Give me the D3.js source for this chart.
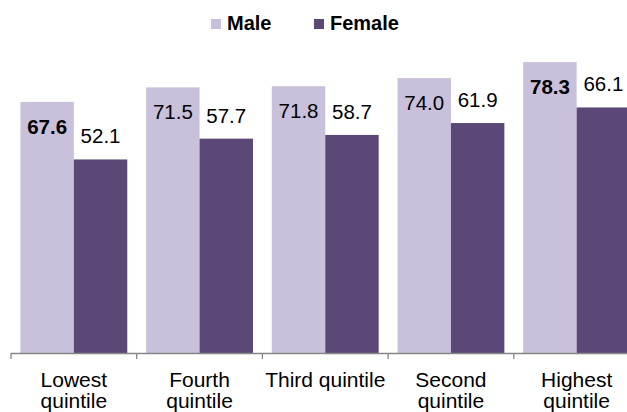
<!DOCTYPE html>
<html>
<head>
<meta charset="utf-8">
<script src="https://cdn.jsdelivr.net/npm/d3@7"></script>
<style>
  body { margin: 0; background: #fff; }
  text { font-family: "Liberation Sans", Arial, sans-serif; fill: #000; }
</style>
</head>
<body>
<div id="chart"></div>
<script>
// data
const categories = ["Lowest quintile", "Fourth quintile", "Third quintile", "Second quintile", "Highest quintile"];
const categoryLines = [["Lowest", "quintile"], ["Fourth", "quintile"], ["Third quintile"], ["Second", "quintile"], ["Highest", "quintile"]];
const series = ["Male", "Female"];
const maleValues = [67.6, 71.5, 71.8, 74.0, 78.3];
const femaleValues = [52.1, 57.7, 58.7, 61.9, 66.1];
const boldMale = [true, false, false, false, true];

const colors = { Male: "#c9c0db", Female: "#5c4877" };

const width = 627, height = 412;
const baseY = 353;

const svg = d3.select("#chart").append("svg")
  .attr("width", width)
  .attr("height", height);

const x0 = d3.scaleBand()
  .domain(categories)
  .range([11, 639.5])
  .paddingInner(0.15)
  .paddingOuter(0.075);

const x1 = d3.scaleBand()
  .domain(series)
  .range([0, x0.bandwidth()]);

const y = d3.scaleLinear()
  .domain([0, 90])
  .range([baseY, baseY - 90 * 3.715]);

const rows = categories.map((c, i) => ({
  cat: c,
  lines: categoryLines[i],
  vals: [
    { key: "Male", v: maleValues[i], bold: boldMale[i] },
    { key: "Female", v: femaleValues[i], bold: false }
  ]
}));

const groups = svg.append("g").selectAll("g.group")
  .data(rows)
  .join("g")
  .attr("class", "group")
  .attr("transform", d => `translate(${x0(d.cat)},0)`);

groups.selectAll("rect")
  .data(d => d.vals)
  .join("rect")
  .attr("x", d => x1(d.key))
  .attr("y", d => y(d.v))
  .attr("width", x1.bandwidth())
  .attr("height", d => baseY - y(d.v))
  .attr("fill", d => colors[d.key]);

// value labels: inside top of the male bar, above the female bar
groups.selectAll("text.val")
  .data(d => d.vals)
  .join("text")
  .attr("class", "val")
  .attr("text-anchor", "middle")
  .attr("x", d => x1(d.key) + x1.bandwidth() / 2)
  .attr("y", d => d.key === "Male" ? y(d.v) + 32 : y(d.v) - 16)
  .style("font-size", "20.5px")
  .style("font-weight", d => d.bold ? "bold" : "normal")
  .text(d => d.v.toFixed(1));

// x axis: line with ticks between categories
const axis = svg.append("g");
axis.append("line")
  .attr("x1", 11).attr("x2", width)
  .attr("y1", baseY + 0.5).attr("y2", baseY + 0.5)
  .attr("stroke", "#868686")
  .attr("stroke-width", 1.3);

axis.selectAll("line.tick")
  .data(d3.range(categories.length + 1))
  .join("line")
  .attr("class", "tick")
  .attr("x1", i => 11 + i * x0.step())
  .attr("x2", i => 11 + i * x0.step())
  .attr("y1", baseY)
  .attr("y2", baseY + 6)
  .attr("stroke", "#868686")
  .attr("stroke-width", 1.3);

axis.selectAll("text.cat")
  .data(rows)
  .join("text")
  .attr("class", "cat")
  .attr("text-anchor", "middle")
  .style("font-size", "21px")
  .each(function(d) {
    const cx = x0(d.cat) + x0.bandwidth() / 2;
    d3.select(this).selectAll("tspan")
      .data(d.lines)
      .join("tspan")
      .attr("x", cx)
      .attr("y", (ln, j) => 387 + j * 21)
      .text(ln => ln);
  });

// legend
const legendItems = [
  { key: "Male", x: 211 },
  { key: "Female", x: 314 }
];
const legend = svg.append("g");
legend.selectAll("rect")
  .data(legendItems)
  .join("rect")
  .attr("x", d => d.x)
  .attr("y", 19)
  .attr("width", 10)
  .attr("height", 10)
  .attr("fill", d => colors[d.key]);
legend.selectAll("text")
  .data(legendItems)
  .join("text")
  .attr("x", d => d.x + 16)
  .attr("y", 30)
  .style("font-size", "20px")
  .style("font-weight", "bold")
  .text(d => d.key);
</script>
</body>
</html>
